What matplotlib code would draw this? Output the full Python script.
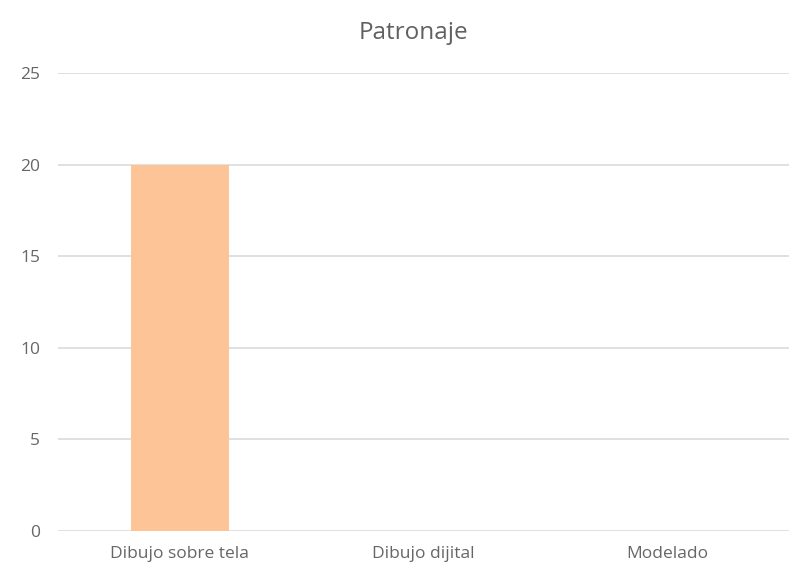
import matplotlib
matplotlib.use("Agg")
import matplotlib.pyplot as plt

categories = ["Dibujo sobre tela", "Dibujo dijital", "Modelado"]
values = [20, 0, 0]
yticks = [0, 5, 10, 15, 20, 25]
title = "Patronaje"

plt.rcParams['font.family'] = ['Open Sans', 'DejaVu Sans']

fig = plt.figure(figsize=(7.89, 5.65), dpi=100)
ax = fig.add_axes([58/789, 1-531/565, 1-58/789, (531-73)/565])

ax.bar(range(len(categories)), values, width=0.4, color="#fdc597", zorder=2)
ax.set_xlim(-0.5, 2.5)
ax.set_ylim(0, 25)
ax.set_yticks(yticks)
ax.set_yticklabels([str(t) for t in yticks])
ax.set_xticks(range(len(categories)))
ax.set_xticklabels(categories)
ax.grid(axis='y', color="#dddddd", linewidth=1.3, zorder=0)
ax.set_axisbelow(True)
for s in ax.spines.values():
    s.set_visible(False)
ax.tick_params(axis='both', length=0, labelsize=12.5, colors="#666666")
ax.tick_params(axis='y', pad=13)
ax.tick_params(axis='x', pad=11)
fig.text(413/789, 1-33/565, title, ha='center', va='center', fontsize=17.5, color="#606060")

fig.savefig("out.png", dpi=100)
